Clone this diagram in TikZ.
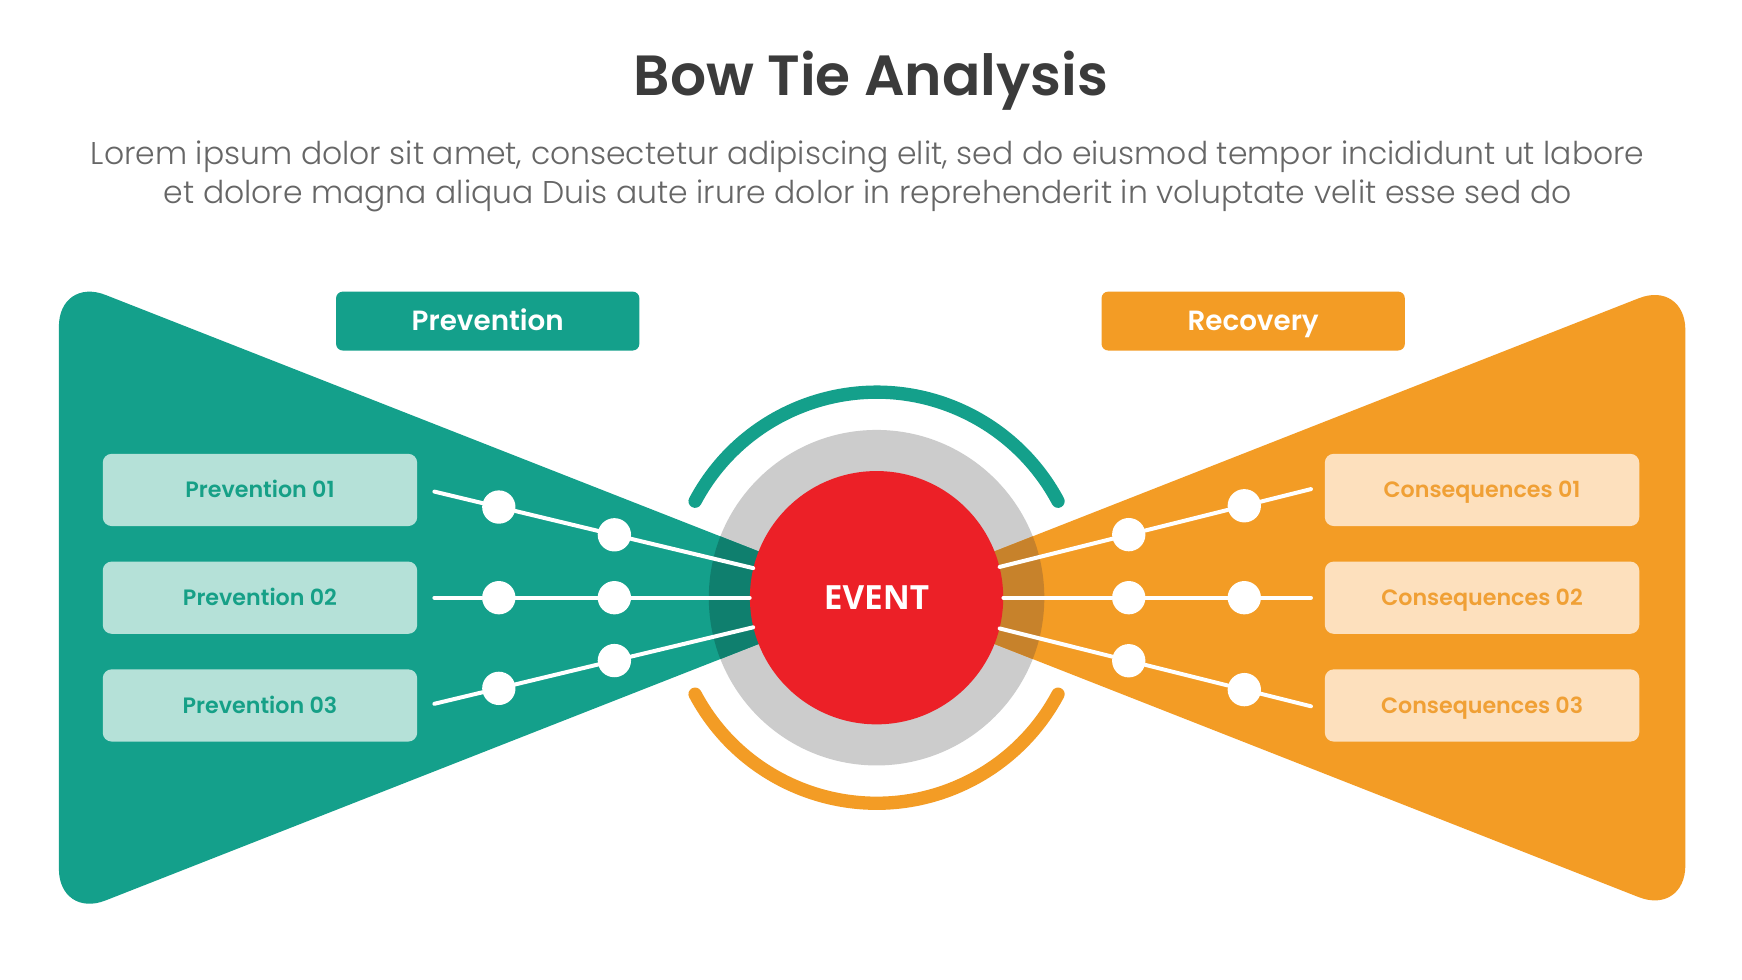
\documentclass[tikz,border=0pt]{standalone}
\usepackage{fontspec}
\setmainfont{Poppins}
\newfontfamily\popsemi{Poppins SemiBold}
\newfontfamily\poplight{Poppins Light}
\newfontfamily\eventfont{Open Sans}
\usetikzlibrary{calc}
\definecolor{bowteal}{HTML}{14A08B}
\definecolor{bowtealdark}{HTML}{0F7F6E}
\definecolor{boworange}{HTML}{F39C25}
\definecolor{boworangedark}{HTML}{C7822B}
\definecolor{tealpale}{HTML}{B5E1D8}
\definecolor{orangepale}{HTML}{FDE0BD}
\definecolor{tealtext}{HTML}{16A087}
\definecolor{orangetext}{HTML}{F0A035}
\definecolor{eventred}{HTML}{EC2027}
\definecolor{ringgray}{HTML}{CCCCCC}
\definecolor{titlegray}{HTML}{3B3B3B}
\definecolor{introgray}{HTML}{666666}
\tikzset{
    bowlabel/.style={rounded corners=6pt, minimum width=273pt, minimum height=53pt, inner sep=0pt, text height=17pt, text depth=0pt, text=white, font=\popsemi\fontsize{25}{28}\selectfont},
    bowitem/.style={rounded corners=8pt, minimum width=283pt, minimum height=65pt, inner sep=0pt, text height=14pt, text depth=0pt, font=\popsemi\fontsize{20}{23}\selectfont},
    bowdot/.style={circle, fill=white, minimum size=30pt, inner sep=0pt},
    bowspoke/.style={white, line width=3.6pt, line cap=round},
    bowarc/.style={line width=12pt, line cap=round}
}

\begin{document}
\begin{tikzpicture}[x=1pt, y=-1pt]
    \useasboundingbox[fill=white] (0,0) rectangle (1568,882);
    \coordinate (evc) at (789,538);

    \node[font=\popsemi\fontsize{51}{56}\selectfont, text=titlegray] (title) at (784,73) {Bow Tie Analysis};
    \node[font=\poplight\fontsize{28.3}{35}\selectfont, text=introgray, align=center] (intro) at (781,159)
        {Lorem ipsum dolor sit amet, consectetur adipiscing elit, sed do eiusmod tempor incididunt ut labore\\
         et dolore magna aliqua Duis aute irure dolor in reprehenderit in voluptate velit esse sed do};

    % wings
    \fill[ringgray] (evc) circle[radius=151pt];
    \fill[bowteal, rounded corners=45pt] (evc) -- (53,249) -- (53,827) -- cycle;
    \fill[boworange, rounded corners=45pt] (evc) -- (1517,252) -- (1517,824) -- cycle;
    \begin{scope}
        \clip (evc) circle[radius=151pt];
        \fill[bowtealdark] (evc) -- (53,249) -- (53,827) -- cycle;
        \fill[boworangedark] (evc) -- (1517,252) -- (1517,824) -- cycle;
    \end{scope}

    \node[bowlabel, fill=bowteal] (prevhead) at (439,289) {Prevention};
    \node[bowlabel, fill=boworange] (recovhead) at (1128,289) {Recovery};

    \foreach \i/\y in {1/441,2/538,3/635} {
        \node[bowitem, fill=tealpale, text=tealtext] (prev\i) at (234,\y) {Prevention 0\i};
        \node[bowitem, fill=orangepale, text=orangetext] (cons\i) at (1334,\y) {Consequences 0\i};
    }

    \node[circle, fill=eventred, minimum size=228pt, inner sep=0pt, text=white, font=\eventfont\fontsize{30}{34}\selectfont\bfseries] (event) at (evc) {EVENT};

    % spokes
    \foreach \r/\k in {1/-1,2/0,3/1} {
        \coordinate (pin\r) at (391,{538+\k*95.5});
        \node[bowdot] (pa\r) at (449,{538+\k*81.6}) {};
        \node[bowdot] (pb\r) at (553,{538+\k*56.6}) {};
        \draw[bowspoke] (pin\r) -- (pa\r) -- (pb\r) -- (event);
        \coordinate (cin\r) at (1180,{538+\k*97.75});
        \node[bowdot] (ca\r) at (1120,{538+\k*82.75}) {};
        \node[bowdot] (cb\r) at (1016,{538+\k*56.75}) {};
        \draw[bowspoke] (cin\r) -- (ca\r) -- (cb\r) -- (event);
    }

    \draw[bowarc, bowteal] ($(evc)+(152:185pt)$) arc[start angle=152, end angle=28, radius=185pt];
    \draw[bowarc, boworange] ($(evc)+(208:185pt)$) arc[start angle=208, end angle=332, radius=185pt];
\end{tikzpicture}
\end{document}
